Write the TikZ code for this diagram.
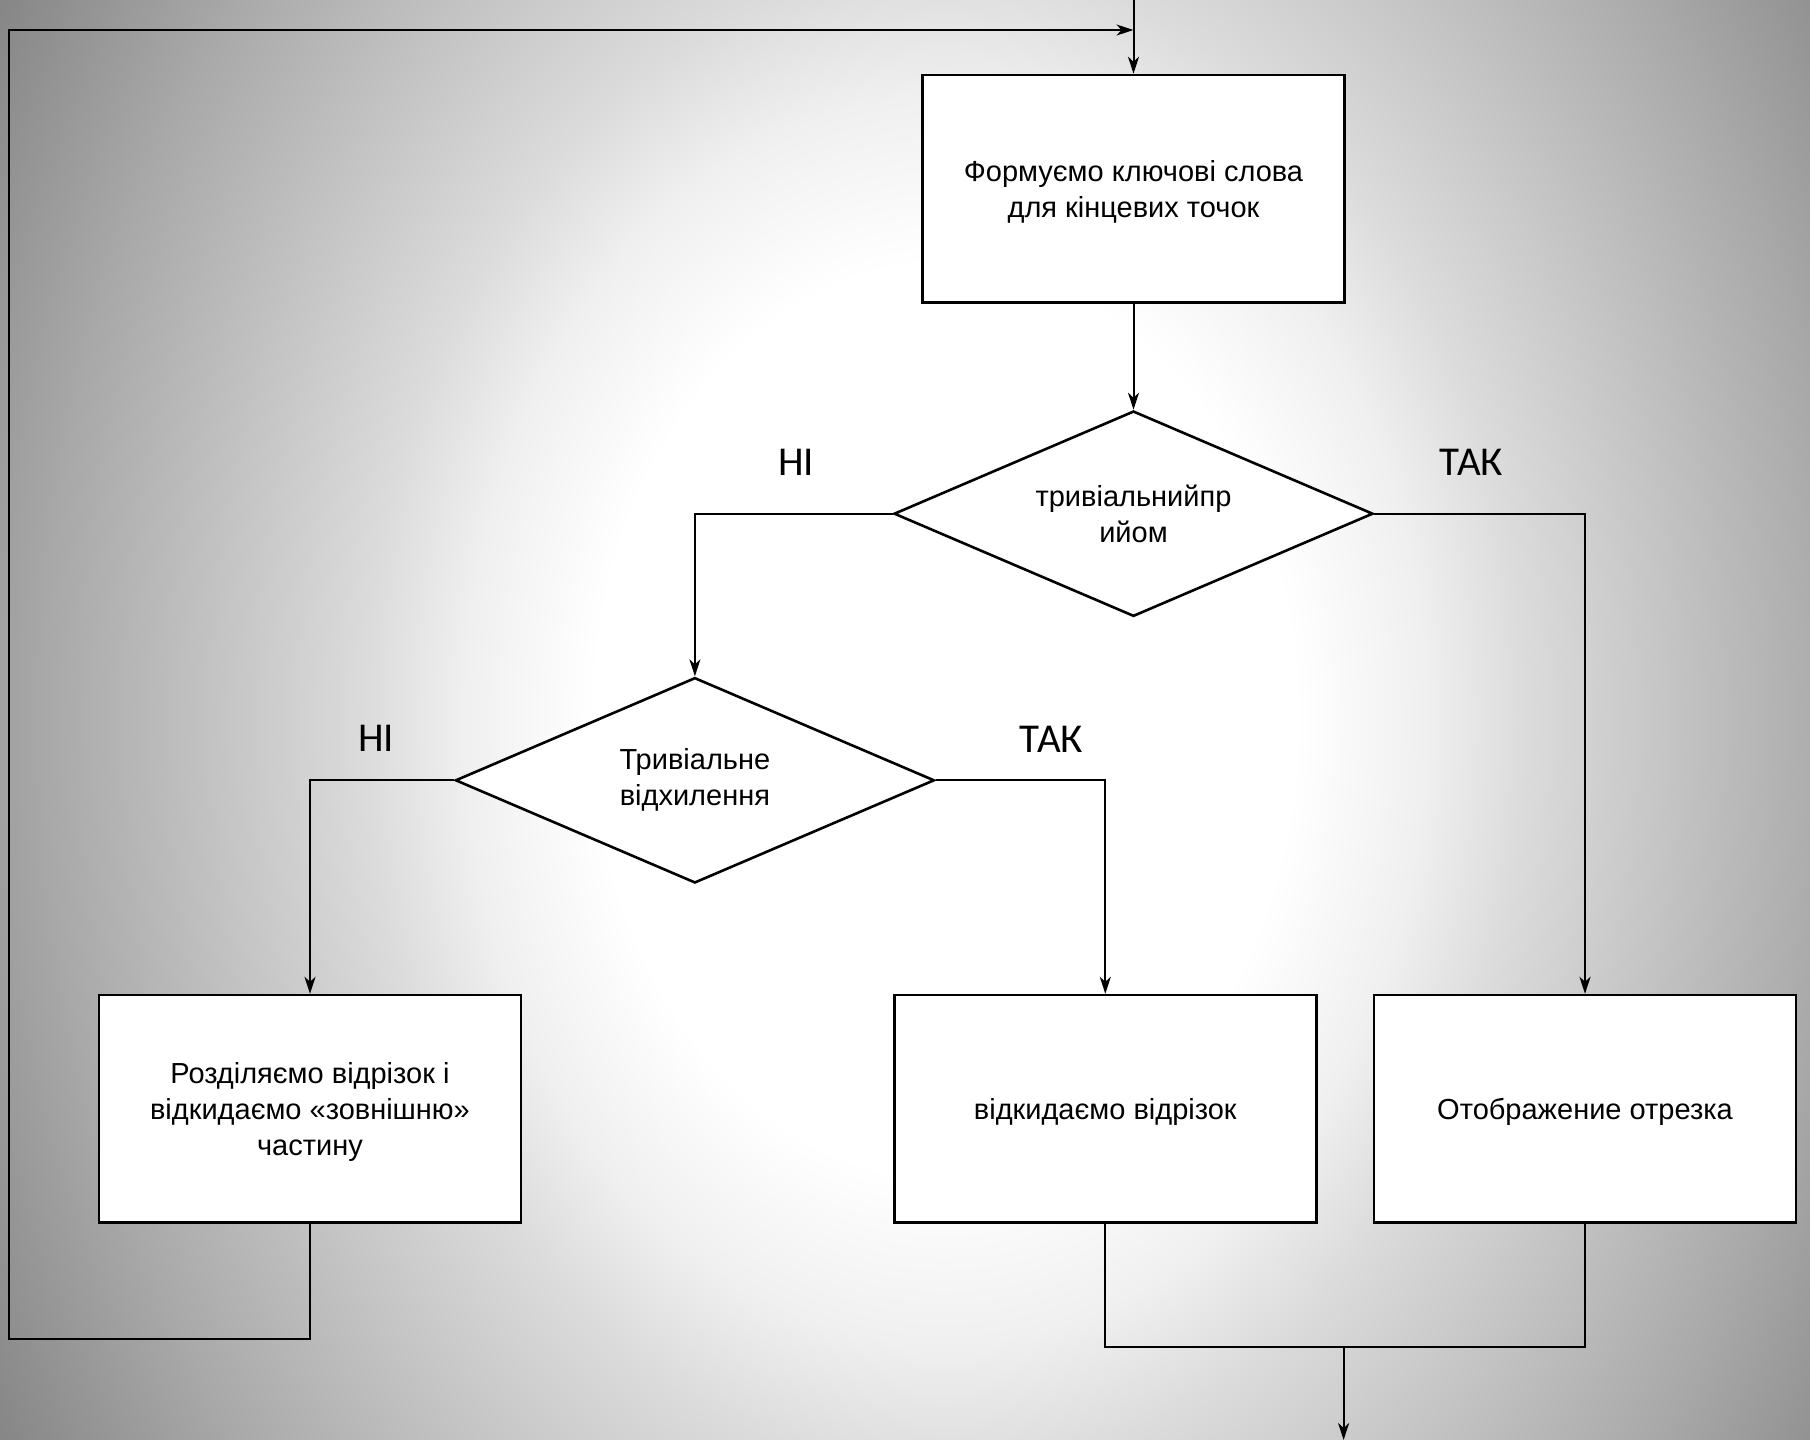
\documentclass[tikz,border=0pt]{standalone}
\usepackage{fontspec}
\setmainfont{Liberation Sans}
\newfontfamily\answerfont{Carlito}
\usetikzlibrary{shapes.geometric,arrows.meta}

\newcommand{\liftline}{\rule{0pt}{14pt}}

\pgfdeclareradialshading{glow}{\pgfpoint{0bp}{0bp}}{color(0bp)=(white); color(7.3bp)=(white); color(10bp)=(black!6); color(12.1bp)=(black!14); color(18.75bp)=(black!34); color(22.7bp)=(black!47); color(25bp)=(black!48); color(50bp)=(black!48)}

\tikzset{
	block/.style={draw=black, line width=1.3pt, fill=white, minimum width=211pt, minimum height=113.7pt, inner sep=0pt, align=center, font=\fontsize{14.5}{18}\selectfont},
	decision/.style={diamond, aspect=2.33, draw=black, line width=1.3pt, fill=white, minimum width=239.5pt, minimum height=102.7pt, inner sep=0pt, align=center, font=\fontsize{14.5}{18}\selectfont},
	link/.style={draw=black, line width=1pt},
	flow/.style={link, -{Stealth[length=8.5pt,width=5.5pt,inset=2.5pt]}},
	answer/.style={inner sep=0pt, font=\answerfont\fontsize{20.5}{24}\selectfont}
}

\begin{document}
\begin{tikzpicture}[x=0.5pt,y=0.5pt,yscale=-1,xscale=1]
	%Shape: Background
	\begin{scope}
		\clip (0,0) rectangle (1810,1440);
		\fill [black!48] (0,0) rectangle (1810,1440);
		\shade [shading=glow] (945,720) ellipse [x radius=600pt, y radius=780pt];
	\end{scope}
	\useasboundingbox (0,0) rectangle (1810,1440);
	
	%Shape: Rectangle
	\node [block] (keys) at (1133.5,188.7) {\liftline Формуємо ключові слова\\для кінцевих точок};
	%Shape: Diamond
	\node [decision] (accept) at (1133.5,513.7) {тривіальнийпр\\ийом};
	%Shape: Diamond
	\node [decision] (reject) at (694.9,780.3) {Тривіальне\\відхилення};
	%Shape: Rectangle
	\node [block] (split) at (310,1108.8) {\liftline Розділяємо відрізок і\\відкидаємо «зовнішню»\\частину};
	%Shape: Rectangle
	\node [block] (drop) at (1105.3,1108.8) {\liftline відкидаємо відрізок};
	%Shape: Rectangle
	\node [block] (show) at (1585,1108.8) {\liftline Отображение отрезка};
	
	% Text Node
	\node [answer] (noA) at (796,462) {НІ};
	% Text Node
	\node [answer] (yesA) at (1471.5,462) {ТАК};
	% Text Node
	\node [answer] (noR) at (376,738) {НІ};
	% Text Node
	\node [answer] (yesR) at (1051.5,739) {ТАК};
	
	\coordinate (entry) at (1133.5,0);
	\coordinate (loopB) at (9.2,1339);
	\coordinate (loopT) at (9.2,30);
	\coordinate (join) at (1343.6,1346.7);
	\coordinate (exit) at (1343.6,1440);
	
	%Straight Lines
	\draw [flow] (entry) -- (keys.north);
	\draw [flow] (keys.south) -- (accept.north);
	\draw [flow] (accept.west) -| (reject.north);
	\draw [flow] (accept.east) -| (show.north);
	\draw [flow] (reject.west) -| (split.north);
	\draw [flow] (reject.east) -| (drop.north);
	%Straight Lines
	\draw [flow] (split.south) |- (loopB) -- (loopT) -- (keys.north |- loopT);
	\draw [link] (drop.south) |- (join) -| (show.south);
	\draw [flow] (join) -- (exit);
\end{tikzpicture}
\end{document}
